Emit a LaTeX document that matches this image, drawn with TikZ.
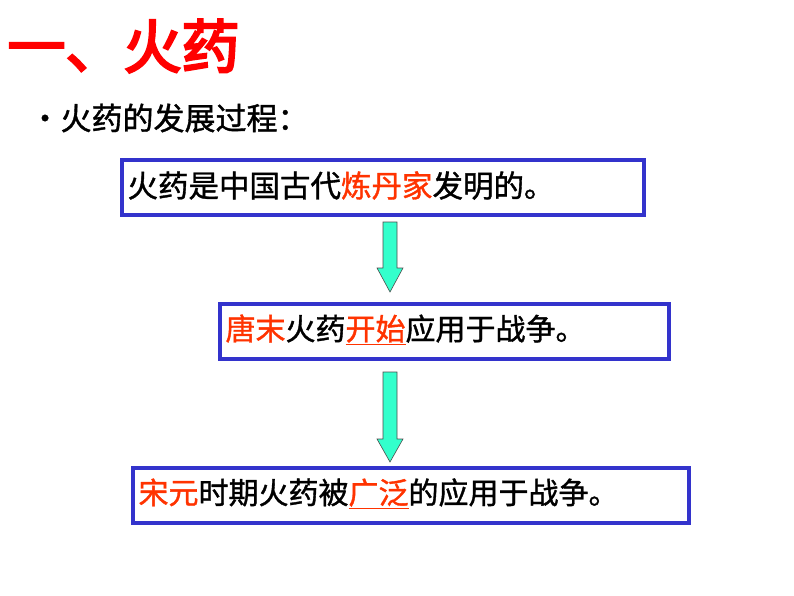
\documentclass[tikz,border=0pt]{standalone}
\usepackage{fontspec}
\usetikzlibrary{calc}
\setmainfont{Liberation Sans}
\newfontfamily\cjk[FakeBold=1.2]{Noto Sans CJK SC}
\newfontfamily\cjkb[FakeBold=4]{Noto Sans CJK SC}
\definecolor{boxblue}{HTML}{3333CC}
\definecolor{hot}{HTML}{FF3300}
\definecolor{turq}{HTML}{33FFCC}
\begin{document}
\begin{tikzpicture}[x=1pt,y=-1pt,
  stagebox/.style={draw=boxblue,line width=4pt,fill=white,anchor=north west,inner sep=0pt},
  flowarrow/.style={fill=turq,draw=black!70,line width=0.6pt}]
\useasboundingbox[fill=white] (0,0) rectangle (794,596);
\node[anchor=west,text=red,font=\cjkb\fontsize{58}{62}\selectfont] (title) at (4,46) {一、火药};
\node[anchor=west,font=\cjk\fontsize{31}{35}\selectfont] (sub) at (26,118) {•火药的发展过程：};
\node[stagebox,minimum width=522,minimum height=55] (b1) at (120,158) {};
\node[anchor=west,font=\cjk\fontsize{30.5}{34}\selectfont] (t1) at (124,185.5) {火药是中国古代\textcolor{hot}{炼丹家}发明的。};
\node[stagebox,minimum width=449,minimum height=55] (b2) at (218,302) {};
\node[anchor=west,font=\cjk\fontsize{30}{34}\selectfont] (t2) at (222,329.5) {\textcolor{hot}{唐末}火药\textcolor{hot}{\underline{开始}}应用于战争。};
\node[stagebox,minimum width=556,minimum height=55] (b3) at (131,466) {};
\node[anchor=west,font=\cjk\fontsize{30}{34}\selectfont] (t3) at (135,493.5) {\textcolor{hot}{宋元}时期火药被\textcolor{hot}{\underline{广泛}}的应用于战争。};
\coordinate (a1) at (390,222);
\coordinate (a2) at (390,372);
\draw[flowarrow] ($(a1)+(-7,0)$) -- ++(14,0) -- ++(0,46) -- ++(6,0) -- (390,292) -- (377,268) -- ++(6,0) -- cycle;
\draw[flowarrow] ($(a2)+(-7,0)$) -- ++(14,0) -- ++(0,67) -- ++(6,0) -- (390,462) -- (377,439) -- ++(6,0) -- cycle;
\end{tikzpicture}
\end{document}
